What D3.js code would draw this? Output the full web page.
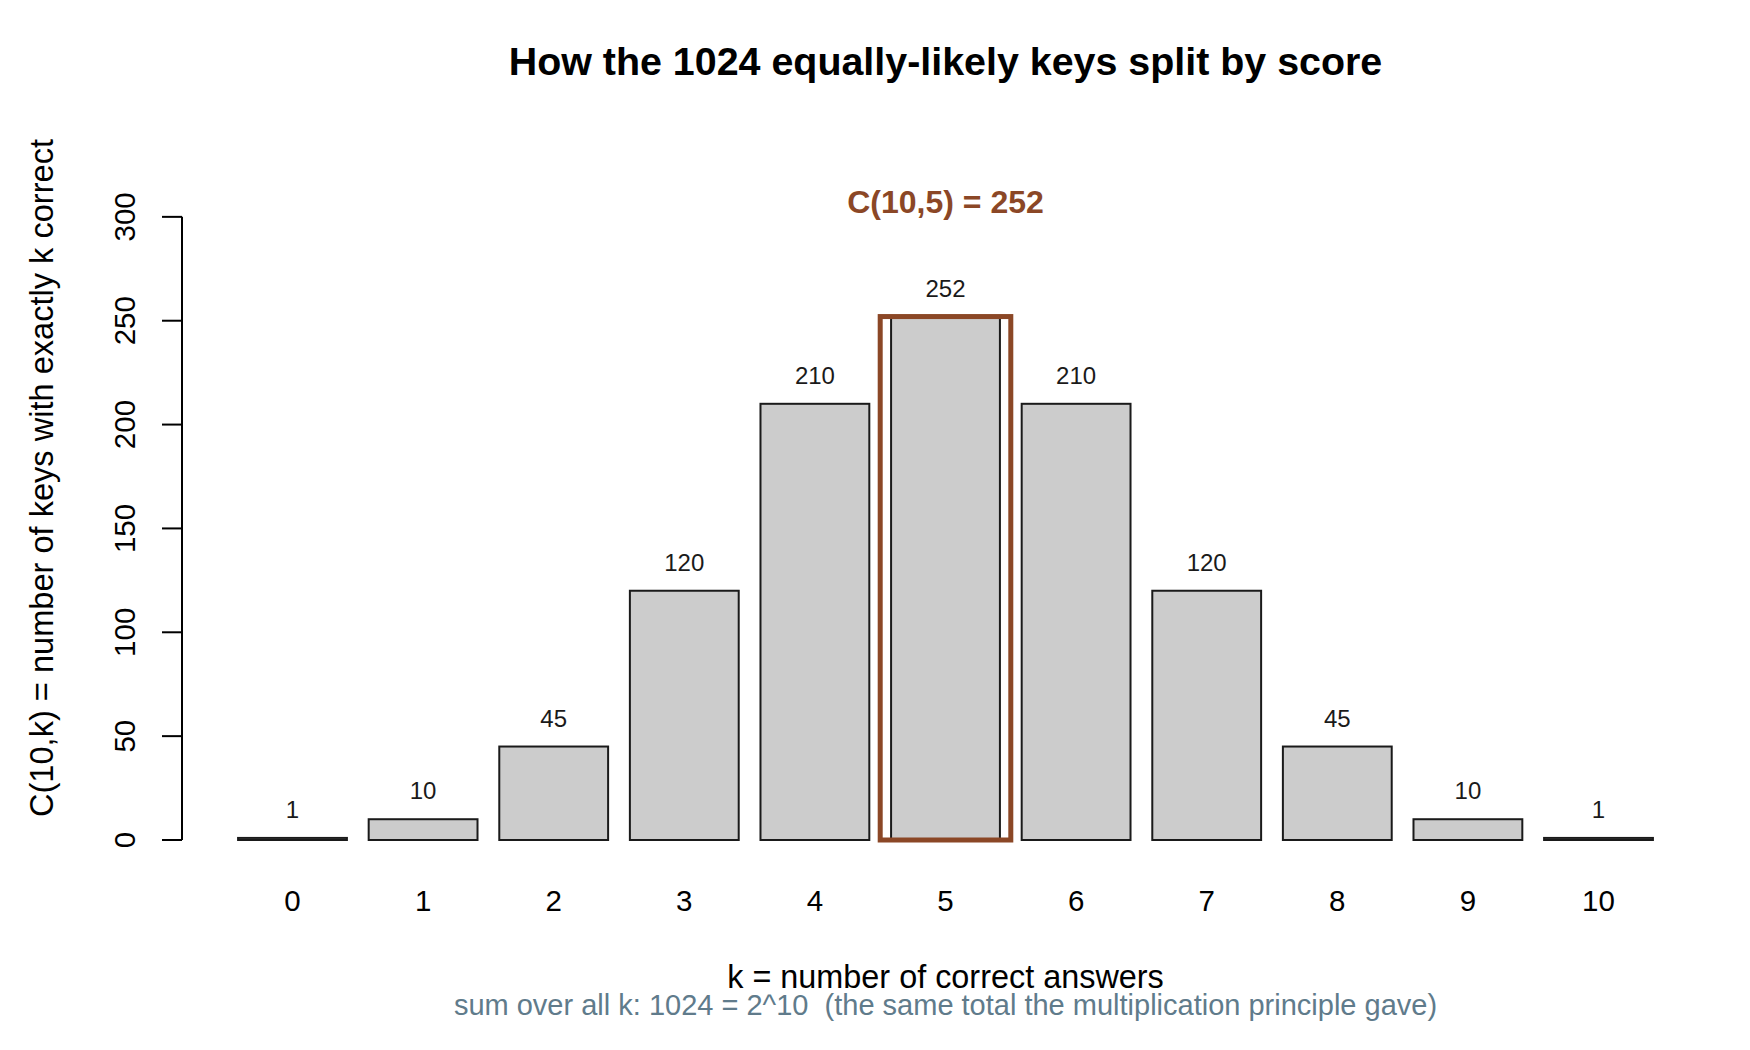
<!DOCTYPE html>
<html>
<head>
<meta charset="utf-8">
<script src="https://cdn.jsdelivr.net/npm/d3@7"></script>
<style>
  body { margin: 0; background: #fff; }
  svg { display: block; font-family: "Liberation Sans", Arial, sans-serif; }
</style>
</head>
<body>
<div id="chart"></div>
<script>
// number of correct answers and how many keys give each score
const scores = ["0", "1", "2", "3", "4", "5", "6", "7", "8", "9", "10"];
const counts = [1, 10, 45, 120, 210, 252, 210, 120, 45, 10, 1];
const yTicks = [0, 50, 100, 150, 200, 250, 300];
const highlight = "5";

const width = 1750, height = 1050;

const svg = d3.select("#chart").append("svg")
    .attr("width", width)
    .attr("height", height);

// scales
const x = d3.scaleBand()
    .domain(scores)
    .range([227.2, 1663.8])
    .paddingInner(0.1667)
    .paddingOuter(0.0833);

const y = d3.scaleLinear()
    .domain([0, 350])
    .range([840, 113]);

const midX = (x.range()[0] + x.range()[1]) / 2;

// title
svg.append("text")
    .attr("x", midX)
    .attr("y", 75)
    .attr("text-anchor", "middle")
    .style("font-size", "39.4px")
    .style("font-weight", "bold")
    .text("How the 1024 equally-likely keys split by score");

// bars
svg.append("g").selectAll("rect")
    .data(scores)
    .enter()
    .append("rect")
    .attr("x", (d) => x(d))
    .attr("y", (d, i) => y(counts[i]))
    .attr("width", x.bandwidth())
    .attr("height", (d, i) => y(0) - y(counts[i]))
    .style("fill", "#cccccc")
    .style("stroke", "#1a1a1a")
    .style("stroke-width", 2);

// value labels above bars
svg.append("g").selectAll("text")
    .data(scores)
    .enter()
    .append("text")
    .attr("x", (d) => x(d) + x.bandwidth() / 2)
    .attr("y", (d, i) => y(counts[i]) - 20)
    .attr("text-anchor", "middle")
    .style("font-size", "24px")
    .style("fill", "#1a1a1a")
    .text((d, i) => counts[i]);

// highlight box round the middle bar
const hi = scores.indexOf(highlight);
const step = x.step();
const hiCenter = x(highlight) + x.bandwidth() / 2;
svg.append("rect")
    .attr("x", hiCenter - step / 2)
    .attr("y", y(counts[hi]))
    .attr("width", step)
    .attr("height", y(0) - y(counts[hi]))
    .style("fill", "none")
    .style("stroke", "#8B4726")
    .style("stroke-width", 5);

svg.append("text")
    .attr("x", hiCenter)
    .attr("y", 213)
    .attr("text-anchor", "middle")
    .style("font-size", "32px")
    .style("font-weight", "bold")
    .style("fill", "#8B4726")
    .text(`C(10,${highlight}) = ${counts[hi]}`);

// y axis, R style: line only over the tick range
const yAxis = svg.append("g");
yAxis.append("line")
    .attr("x1", 182).attr("x2", 182)
    .attr("y1", y(0)).attr("y2", y(300))
    .style("stroke", "#000")
    .style("stroke-width", 2);
yAxis.selectAll(".tick")
    .data(yTicks)
    .enter()
    .append("line")
    .attr("x1", 162).attr("x2", 182)
    .attr("y1", (d) => y(d)).attr("y2", (d) => y(d))
    .style("stroke", "#000")
    .style("stroke-width", 2);
yAxis.selectAll(".label")
    .data(yTicks)
    .enter()
    .append("text")
    .attr("transform", (d) => `translate(135,${y(d)}) rotate(-90)`)
    .attr("text-anchor", "middle")
    .style("font-size", "29.5px")
    .text((d) => d);

// x category labels
svg.append("g").selectAll("text")
    .data(scores)
    .enter()
    .append("text")
    .attr("x", (d) => x(d) + x.bandwidth() / 2)
    .attr("y", 911)
    .attr("text-anchor", "middle")
    .style("font-size", "29.5px")
    .text((d) => d);

// axis titles
svg.append("text")
    .attr("transform", "translate(53,478) rotate(-90)")
    .attr("text-anchor", "middle")
    .style("font-size", "32.6px")
    .text("C(10,k) = number of keys with exactly k correct");

svg.append("text")
    .attr("x", midX)
    .attr("y", 988)
    .attr("text-anchor", "middle")
    .style("font-size", "32.4px")
    .text("k = number of correct answers");

svg.append("text")
    .attr("x", midX)
    .attr("y", 1015)
    .attr("text-anchor", "middle")
    .style("font-size", "29px")
    .style("fill", "#607B8B")
    .style("white-space", "pre")
    .text("sum over all k: 1024 = 2^10  (the same total the multiplication principle gave)");
</script>
</body>
</html>
